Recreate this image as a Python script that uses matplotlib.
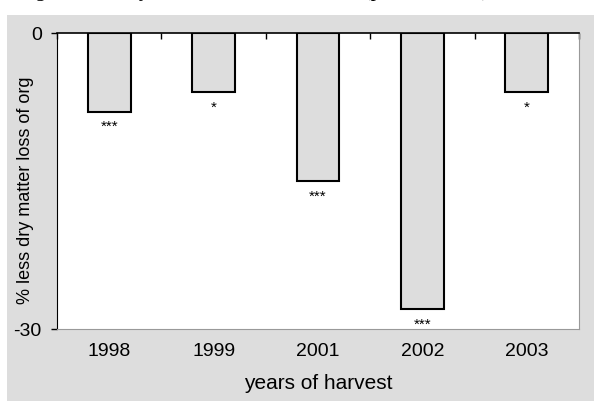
import matplotlib
matplotlib.use('Agg')
import matplotlib.pyplot as plt
from matplotlib.patches import Rectangle
import numpy as np

years = ['1998', '1999', '2001', '2002', '2003']
loss = [-8.0, -6.0, -15.0, -28.0, -6.0]
signif = ['***', '*', '***', '***', '*']
y_ticks = [0, -30]

plt.rcParams['font.family'] = ['Liberation Sans', 'DejaVu Sans']

fig = plt.figure(figsize=(5.94, 4.01), dpi=100)
fig.patch.set_facecolor('white')

# grey chart area behind the plot
fig.patches.append(Rectangle((7 / 594, 0), 1, 1 - 15 / 401, transform=fig.transFigure,
                             facecolor='#dddddd', edgecolor='none', zorder=-10))

# caption line cut off at the top of the image
fig.text(18 / 594, 1 + 4 / 401, 'Fig. 1: Less dry matter loss than in conv. (p < 0.05, ***),',
         family='Liberation Serif', fontsize=15, va='baseline', ha='left')

ax = fig.add_axes([57 / 594, 72 / 401, 522 / 594, 296 / 401])
ax.set_zorder(2)
ax.set_facecolor('white')

x = np.arange(len(years))
ax.bar(x, loss, width=0.41, color='#dddddd', edgecolor='black', linewidth=1.5, zorder=3)

for xi, v, s in zip(x, loss, signif):
    ax.annotate(s, (xi, v), xytext=(0, -6), textcoords='offset points',
                ha='center', va='top', fontsize=11)

ax.set_xlim(-0.5, len(years) - 0.5)
ax.set_ylim(-30, 0)
ax.set_yticks(y_ticks)
ax.set_yticklabels([str(t) for t in y_ticks], fontsize=14)
ax.tick_params(axis='y', direction='out', length=4, width=1, pad=7)

ax.set_xticks(x)
ax.set_xticklabels(years, fontsize=14)
ax.tick_params(axis='x', which='major', length=0, pad=10)
ax.set_xticks(np.arange(-0.5, len(years)), minor=True)
ax.tick_params(axis='x', which='minor', bottom=False, top=True, direction='in', length=4, width=1)

ax.spines['left'].set_color('black')
ax.spines['top'].set_color('black')
ax.spines['top'].set_linewidth(1.2)
ax.spines['right'].set_color('#999999')
ax.spines['bottom'].set_color('#999999')

ax.set_ylabel('% less dry matter loss of org', fontsize=13)
ax.yaxis.set_label_coords(-0.045, 0.47)
ax.set_xlabel('years of harvest', fontsize=15)
ax.xaxis.set_label_coords(0.5, -0.152)

fig.savefig('out.png', dpi=100, facecolor=fig.get_facecolor())
